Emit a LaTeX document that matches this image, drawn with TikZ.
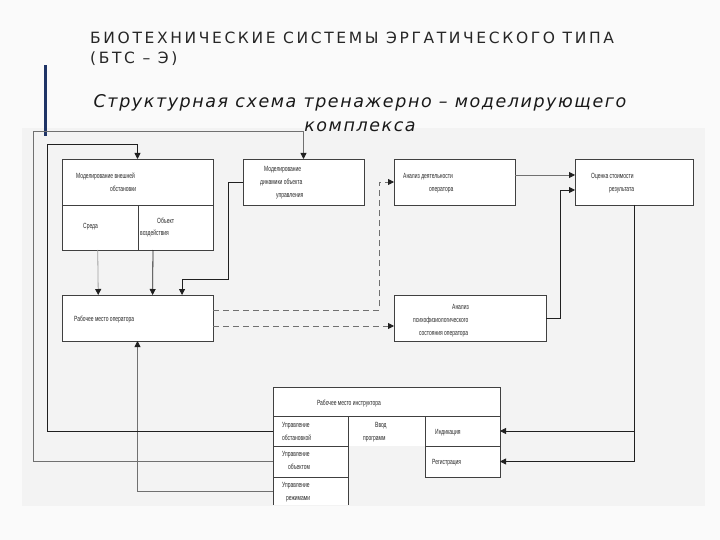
\documentclass[tikz,border=0pt]{standalone}
\usepackage{fontspec}
\setmainfont{DejaVu Sans}
\newfontfamily\narrowfont[FakeStretch=0.66]{Liberation Sans}
\newfontfamily\titlefont[LetterSpace=17]{DejaVu Sans}
\newfontfamily\subfont[LetterSpace=9]{DejaVu Sans}
\usetikzlibrary{arrows.meta,calc}
\definecolor{pagebg}{HTML}{FAFAFA}
\definecolor{diagbg}{HTML}{F3F3F3}
\definecolor{barblue}{HTML}{1F3466}
\definecolor{boxline}{HTML}{404040}
\definecolor{darkline}{HTML}{202020}
\definecolor{grayline}{HTML}{707070}
\definecolor{lightline}{HTML}{A0A0A0}
\tikzset{
  box/.style={draw=boxline,fill=white,line width=0.8pt,inner sep=0pt,outer sep=0pt},
  cell/.style={fill=white,inner sep=0pt,outer sep=0pt},
  lbl/.style={font=\narrowfont\fontsize{7.5}{13}\selectfont,inner sep=0pt,anchor=base west,align=left,text=black!85},
  conn/.style={draw=darkline,line width=0.8pt,-{Triangle[length=6pt,width=6pt,color=darkline]}},
}
\begin{document}
\begin{tikzpicture}[x=1pt,y=-1pt]
\useasboundingbox (0,0) rectangle (720,540);
\fill[pagebg] (0,0) rectangle (720,540);
\fill[diagbg] (22,128) rectangle (705,506);
% title (anchor = baseline of the last line)
\node[anchor=base west,inner sep=0pt,font=\titlefont\fontsize{15.5}{20}\selectfont,align=left,text=black!85] (title) at (90,64) {БИОТЕХНИЧЕСКИЕ СИСТЕМЫ ЭРГАТИЧЕСКОГО ТИПА\\(БТС – Э)};
\fill[barblue] (43.5,65) rectangle (46.5,136);
\node[anchor=base,inner sep=0pt,font=\subfont\itshape\fontsize{17.5}{24}\selectfont,align=center,text=black!90] (subtitle) at (360,132) {Структурная схема тренажерно – моделирующего\\комплекса};
% boxes
\node[box,minimum width=151pt,minimum height=46pt] (Atop) at (137.5,182) {};
\node[box,minimum width=76pt,minimum height=45pt] (Asr) at (100,227.5) {};
\node[box,minimum width=75pt,minimum height=45pt] (Aob) at (175.5,227.5) {};
\node[box,minimum width=121pt,minimum height=46pt] (B) at (303.5,182) {};
\node[box,minimum width=121pt,minimum height=46pt] (C) at (454.5,182) {};
\node[box,minimum width=118pt,minimum height=46pt] (D) at (634,182) {};
\node[box,minimum width=152pt,minimum height=46pt] (E) at (470,318) {};
\node[box,minimum width=151pt,minimum height=46pt] (F) at (137.5,318) {};
% instructor workstation
\node[cell,minimum width=77pt,minimum height=30pt] (Iprog) at (386.5,431) {};
\node[cell,minimum width=75pt,minimum height=28pt] (I3) at (310.5,491) {};
\draw[draw=boxline,line width=0.8pt] (I3.north west) -- (I3.south west) (I3.north east) -- (I3.south east);
\node[box,minimum width=227pt,minimum height=29pt] (Ih) at (386.5,401.5) {};
\node[box,minimum width=75pt,minimum height=30pt] (I1) at (310.5,431) {};
\node[box,minimum width=75pt,minimum height=31pt] (I2) at (310.5,461.5) {};
\node[box,minimum width=75pt,minimum height=30pt] (Ind) at (462.5,431) {};
\node[box,minimum width=75pt,minimum height=31pt] (Reg) at (462.5,461.5) {};
% labels (anchor = baseline of the last line)
\node[lbl] (tAtop) at (76,192) {Моделирование внешней\\\hspace*{34pt}обстановки};
\node[lbl] (tAsr) at (83,229) {Среда};
\node[lbl] (tAob) at (140,236) {\hspace*{17pt}Объект\\воздействия};
\node[lbl] (tB) at (260,198) {\hspace*{4pt}Моделирование\\динамики объекта\\\hspace*{16pt}управления};
\node[lbl] (tC) at (403,192) {Анализ деятельности\\\hspace*{26pt}оператора};
\node[lbl] (tD) at (591,192) {Оценка стоимости\\\hspace*{18pt}результата};
\node[lbl] (tE) at (413,335) {\hspace*{39pt}Анализ\\психофизиологического\\\hspace*{6pt}состояния оператора};
\node[lbl] (tF) at (74,321) {Рабочее место оператора};
\node[lbl,anchor=base] (tIh) at (349,405) {Рабочее место инструктора};
\node[lbl] (tI1) at (282,440) {Управление\\обстановкой};
\node[lbl] (tIprog) at (363,440) {\hspace*{12pt}Ввод\\программ};
\node[lbl] (tInd) at (435,434) {Индикация};
\node[lbl] (tReg) at (432,464) {Регистрация};
\node[lbl] (tI2) at (282,469) {Управление\\\hspace*{6pt}объектом};
\node[lbl] (tI3) at (282,500) {Управление\\\hspace*{4pt}режимами};
% connectors
\draw[conn,draw=lightline] ($(Asr.south west)!0.47!(Asr.south east)$) -- ($(F.north west)!0.24!(F.north east)$);
\draw[conn] ($(Aob.south west)!0.2!(Aob.south east)$) -- ($(F.north west)!0.6!(F.north east)$);
\draw[conn] (B.west) -- ++(-15,0) -- ++(0,97) -| ($(F.north west)!0.795!(F.north east)$);
\draw[conn,dash pattern=on 6pt off 4pt,draw=grayline] ([yshift=8pt]F.east) -| ($(C.west)+(-15,0)$) -- (C.west);
\draw[conn,dash pattern=on 6pt off 4pt,draw=grayline] ([yshift=-8pt]F.east) -- ([yshift=-8pt]E.west);
\draw[conn,draw=grayline] ([yshift=7pt]C.east) -- ([yshift=7pt]D.west);
\draw[conn] (E.east) -- ++(14,0) |- ([yshift=-8pt]D.west);
\draw[conn] (D.south) |- (Reg.east);
\draw[conn] (D.south |- Ind.east) -- (Ind.east);
\draw[conn,draw=grayline] (I3.west) -| (F.south);
\draw[conn] (I1.west) -| ++(-226,-287) -| (Atop.north);
\draw[conn,draw=grayline] (I2.west) -| ++(-240,-330.5) -| (B.north);
\end{tikzpicture}
\end{document}
